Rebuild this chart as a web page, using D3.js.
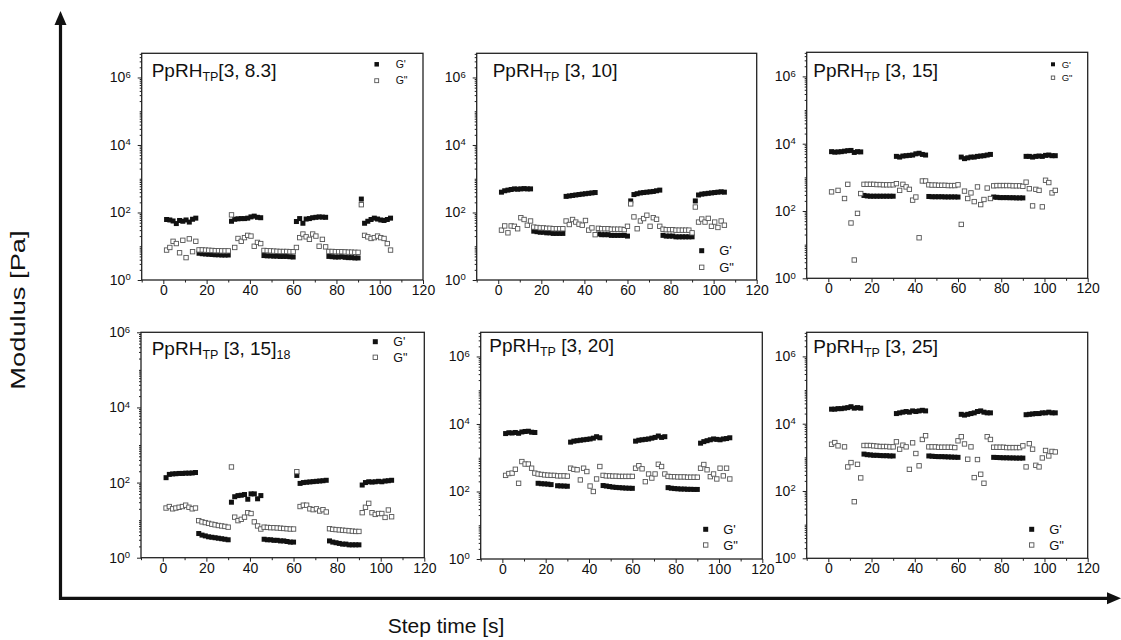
<!DOCTYPE html>
<html>
<head>
<meta charset="utf-8">
<script src="https://cdn.jsdelivr.net/npm/d3@7"></script>
<style>
  html, body { margin: 0; padding: 0; background: #fff; }
  svg { display: block; font-family: "Liberation Sans", Arial, Helvetica, sans-serif; }
</style>
</head>
<body>
<svg id="chart" width="1121" height="640"></svg>
<script>
// Step time of every oscillation point [s]
const stepTime = [1.5,3,4.5,6,7.5,9,10.5,12,13.5,15, 16.5,18,19.5,21,22.5,24,25.5,27,28.5,30,
  31.5,33,34.5,36,37.5,39,40.5,42,43.5,45, 46.5,48,49.5,51,52.5,54,55.5,57,58.5,60,
  61.5,63,64.5,66,67.5,69,70.5,72,73.5,75, 76.5,78,79.5,81,82.5,84,85.5,87,88.5,90,
  91.5,93,94.5,96,97.5,99,100.5,102,103.5,105];

// Storage (G') and loss (G'') moduli [Pa] for each gel; null = not measurable on a log axis
const gp83 = [62,60,56,47,58,55,60,52,63,68, 6.2,6.0,5.9,5.8,5.7,5.6,5.6,5.5,5.5,5.5,
  55,63,65,66,66,68,74,78,72,70, 5.3,5.2,5.2,5.1,5.1,5.0,5.0,5.0,4.9,4.8,
  54,66,48,64,66,70,72,74,73,72, 5.0,4.9,4.8,4.8,4.9,4.7,4.6,4.6,4.5,4.5,
  250,48,55,62,68,64,60,58,62,68];
const gpp83 = [7.7,9.2,14,12,6.4,15,4.6,16.6,6.9,14, 7.8,7.8,7.7,7.6,7.5,7.4,7.4,7.3,7.3,7.3,
  85,9.2,17,14,18,21,20,10,13,12, 7.5,7.4,7.3,7.2,7.1,7.0,7.0,7.0,6.9,6.9,
  9.2,18,23,19,16,23,20,10,16,9.6, 7.0,7.0,6.9,6.9,6.9,6.8,6.7,6.7,6.6,6.6,
  170,21,19,17,18,20,18,17,12,7.7];

const gp10 = [400,440,460,480,500,490,500,510,500,500, 28,27,26,26,25,25,24,24,24,24,
  300,310,320,330,340,350,360,370,380,390, 23,22,22,22,21,21,21,21,21,20,
  220,340,360,380,390,400,410,420,440,460, 21,20,20,20,19,19,19,19,19,19,
  220,330,350,360,370,380,390,400,410,400];
const gpp10 = [30,40,25,40,39,33,70,62,42,56, 37,36,35,35,34,34,33,33,33,33,
  56,44,62,52,45,42,58,30,35,22, 34,33,33,33,32,32,32,32,31,39,
  180,74,33,56,66,83,39,70,63,39, 32,31,31,31,30,30,30,30,30,25,
  145,52,64,52,67,39,52,36,56,42];

const gp15 = [5800,5600,5700,5800,6000,6200,6300,5500,5800,5700, 290,280,275,275,275,275,275,275,275,275,
  4200,4000,4300,4400,4500,4600,5000,5200,4800,4600, 270,265,265,265,265,262,262,262,262,260,
  4000,3600,3800,4000,4000,4200,4300,4400,4600,4800, 260,255,250,250,250,248,248,245,245,245,
  4200,4200,4000,4200,4300,4200,4500,4600,4400,4400];
const gpp15 = [370,null,410,null,235,620,44,3.5,85,330, 620,620,620,620,610,610,600,600,600,600,
  650,410,620,520,440,210,260,16,780,780, 600,590,590,580,580,580,570,570,570,600,
  40,390,235,345,190,520,155,220,480,235, 560,570,570,570,570,570,560,560,560,540,
  720,460,142,440,410,133,820,700,345,410];

const gp1518 = [135,165,170,172,175,175,178,178,180,185, 4.4,4.0,3.8,3.6,3.5,3.4,3.3,3.2,3.1,3.0,
  30,42,45,46,48,36,50,50,37,45, 3.1,3.0,3.0,2.9,2.9,2.8,2.8,2.7,2.6,2.6,
  155,95,100,102,104,106,108,110,112,115, 2.8,2.6,2.5,2.4,2.3,2.3,2.2,2.2,2.2,2.2,
  86,100,105,103,105,108,105,110,112,115];
const gpp1518 = [21,23,20,21,22,23,25,22,20,21, 9.7,9.0,8.6,8.2,7.8,7.5,7.2,7.0,6.8,6.5,
  260,12,9.7,10.5,12,15.8,15,9,7,5.8, 6.5,6.4,6.3,6.3,6.2,6.1,6.0,5.9,5.8,5.8,
  195,23,25,25,20,19,20,17.5,19,16.5, 5.9,5.7,5.6,5.5,5.4,5.3,5.2,5.1,5.0,5.0,
  15.8,22,28,15.8,14.2,15,15,11.8,18.6,12.3];

const gp20 = [5200,5500,5400,5600,5300,5800,6000,6100,5700,5600, 175,170,168,165,160,null,148,146,145,143,
  2900,3100,3200,3300,3400,3500,3600,3800,4200,3900, 150,145,140,135,132,130,128,126,125,124,
  3100,3300,3400,3500,3600,3800,4000,4400,4000,4200, 130,125,122,120,118,118,116,116,115,115,
  2700,3000,3200,3400,3600,3500,3400,3600,3700,3900];
const gpp20 = [300,340,350,455,175,770,650,650,490,350, 330,320,310,305,300,300,290,290,290,285,
  490,455,440,220,490,390,145,100,235,550, 300,290,290,285,285,280,280,280,280,280,
  490,580,470,195,330,250,330,640,550,330, 280,275,275,270,270,270,265,265,265,265,
  490,630,440,275,330,235,490,290,490,235];

const gp25 = [27000,27000,28000,28000,29000,30000,32000,29000,30000,29000, 1250,1200,1180,1150,1150,1130,1120,1120,1100,1100,
  20000,21000,22000,23000,22000,24000,23000,24000,25000,24000, 1100,1080,1060,1050,1050,1040,1030,1020,1010,1000,
  19000,18000,19000,20000,21000,23000,24000,22000,21000,21000, 1000,990,980,970,970,960,960,950,950,950,
  18500,19000,19500,20000,20000,21000,21000,22000,21000,21000];
const gpp25 = [2450,2750,2200,null,2050,520,700,48,620,245, 2250,2250,2250,2200,2150,2100,2100,2100,2050,2050,
  2900,1750,2300,2050,440,2700,1300,560,3400,4400, 2050,2050,2050,2000,2000,2000,2000,2000,1950,3100,
  4100,2500,880,2050,250,860,315,170,4100,3400, 2000,2000,2000,2000,1950,1950,1950,1950,1950,2200,
  520,2550,1750,580,520,960,1600,1100,1500,1450];

// Axis ticks
const xDomain = [-10, 120];
const xMajor = [0, 20, 40, 60, 80, 100, 120];
const xMinor = [-10, 10, 30, 50, 70, 90, 110];
const yLabelExps = [0, 2, 4, 6];
const legendLabels = ["G'", "G\""];

// Panel layout: frame box [left, top, right, bottom], title offset, legend placement
const panels = [
  { tail: "[3, 8.3]", sub2: null, gp: gp83, gpp: gpp83, yMax: 5.2e6, box: [141.7, 53.3, 423, 280],
    title: [10, 24], legend: { x: 235, y: 11, dy: 16.4, tx: 19, fs: 10.5, sq: 4.5 } },
  { tail: " [3, 10]", sub2: null, gp: gp10, gpp: gpp10, yMax: 5.2e6, box: [476.7, 53.3, 756.7, 280],
    title: [16, 23.5], legend: { x: 225, y: 197.4, dy: 16.6, tx: 17.5, fs: 13, sq: 5 } },
  { tail: " [3, 15]", sub2: null, gp: gp15, gpp: gpp15, yMax: 5.2e6, box: [806.7, 52.3, 1087.7, 278.3],
    title: [6.6, 24.5], legend: { x: 246.3, y: 12, dy: 13.4, tx: 8.7, fs: 9.5, sq: 4 } },
  { tail: " [3, 15]", sub2: "18", gp: gp1518, gpp: gpp1518, yMax: 1e6, box: [141, 332.3, 424.3, 557.7],
    title: [10.7, 22.7], legend: { x: 234.3, y: 9.4, dy: 15.6, tx: 18, fs: 12.5, sq: 5 } },
  { tail: " [3, 20]", sub2: null, gp: gp20, gpp: gpp20, yMax: 5.2e6, box: [480.7, 332.3, 762.3, 559],
    title: [8.6, 19.5], legend: { x: 225, y: 197, dy: 15.7, tx: 17.5, fs: 13, sq: 5 } },
  { tail: " [3, 25]", sub2: null, gp: gp25, gpp: gpp25, yMax: 5.2e6, box: [806.7, 332.3, 1087.7, 558.3],
    title: [6.6, 21], legend: { x: 225, y: 197, dy: 15.7, tx: 17.5, fs: 13, sq: 5 } }
];

const svg = d3.select("#chart");
const ink = "#111";

// Large framing arrows shared by all panels
svg.append("path")
  .attr("d", "M60.5,24 V598.3 H1109")
  .attr("fill", "none").attr("stroke", ink).attr("stroke-width", 3.2)
  .attr("stroke-linejoin", "miter");
svg.append("path").attr("d", "M60.5,11 L54.5,25 L66.5,25 Z").attr("fill", ink);
svg.append("path").attr("d", "M1121,598.3 L1107,592.3 L1107,604.3 Z").attr("fill", ink);

svg.append("text")
  .attr("transform", "translate(25,310) rotate(-90) scale(1.3,1)")
  .attr("text-anchor", "middle")
  .attr("font-size", 21).attr("fill", ink)
  .text("Modulus [Pa]");
svg.append("text")
  .attr("x", 446).attr("y", 633)
  .attr("text-anchor", "middle")
  .attr("font-size", 21).attr("fill", ink)
  .text("Step time [s]");

panels.forEach(p => {
  const [l, t, r, b] = p.box;
  const x = d3.scaleLinear().domain(xDomain).range([l, r]);
  const y = d3.scaleLog().domain([1, p.yMax]).range([b, t]);
  const g = svg.append("g");

  // bottom axis: labelled majors and unlabelled minors
  const xa = g.append("g").attr("transform", `translate(0,${b})`)
    .call(d3.axisBottom(x).tickValues(xMajor).tickSize(4).tickSizeOuter(0).tickPadding(1));
  g.append("g").attr("transform", `translate(0,${b})`)
    .call(d3.axisBottom(x).tickValues(xMinor).tickSize(2.5).tickSizeOuter(0).tickFormat(""));

  // left axis: decade labels as 10^n, minor ticks at 2..9 and odd decades
  const yMinor = [];
  for (let k = 0; k <= 6; k++) {
    for (let m = 2; m <= 10; m++) {
      const v = m * Math.pow(10, k);
      if (v <= p.yMax && !(m === 10 && (k + 1) % 2 === 0)) yMinor.push(v);
    }
  }
  const ya = g.append("g").attr("transform", `translate(${l},0)`)
    .call(d3.axisLeft(y).tickValues(yLabelExps.map(e => Math.pow(10, e)))
      .tickSize(4).tickSizeOuter(0).tickPadding(7).tickFormat(d => Math.round(Math.log10(d))));
  g.append("g").attr("transform", `translate(${l},0)`)
    .call(d3.axisLeft(y).tickValues(yMinor).tickSize(2).tickSizeOuter(0).tickFormat(""));

  g.selectAll(".domain").remove();
  g.selectAll(".tick line").attr("stroke", "#222");
  xa.selectAll("text").attr("font-size", 14).attr("fill", ink).attr("font-family", null);
  ya.selectAll("text").each(function (d) {
    const e = Math.round(Math.log10(d));
    const txt = d3.select(this).text(null).attr("font-size", 14).attr("fill", ink).attr("font-family", null);
    txt.append("tspan").text("10");
    txt.append("tspan").attr("dy", "-0.5em").attr("font-size", 9.5).text(e);
  });

  // plot frame
  g.append("rect")
    .attr("x", l).attr("y", t).attr("width", r - l).attr("height", b - t)
    .attr("fill", "none").attr("stroke", "#222").attr("stroke-width", 1.3);

  // measured points
  const rows = stepTime.map((s, i) => ({ s, gp: p.gp[i], gpp: p.gpp[i] }));
  const sz = 5, osz = 4.4;
  g.append("g").selectAll("rect")
    .data(rows.filter(d => d.gp != null))
    .join("rect")
    .attr("x", d => x(d.s) - sz / 2).attr("y", d => y(d.gp) - sz / 2)
    .attr("width", sz).attr("height", sz).attr("fill", ink);
  g.append("g").selectAll("rect")
    .data(rows.filter(d => d.gpp != null))
    .join("rect")
    .attr("x", d => x(d.s) - osz / 2).attr("y", d => y(d.gpp) - osz / 2)
    .attr("width", osz).attr("height", osz)
    .attr("fill", "#fff").attr("stroke", "#555").attr("stroke-width", 0.9);

  // title: PpRH with subscripted TP
  const title = g.append("text")
    .attr("x", l + p.title[0]).attr("y", t + p.title[1])
    .attr("font-size", 19).attr("fill", ink);
  title.append("tspan").text("PpRH");
  title.append("tspan").attr("font-size", 12.5).attr("dy", 4).text("TP");
  title.append("tspan").attr("dy", -4).text(p.tail);
  if (p.sub2) title.append("tspan").attr("font-size", 12.5).attr("dy", 4).text(p.sub2);

  // legend
  const L = p.legend;
  legendLabels.forEach((lab, i) => {
    const cx = l + L.x, cy = t + L.y + i * L.dy;
    const s = i === 0 ? L.sq : L.sq - 0.6;
    g.append("rect")
      .attr("x", cx - s / 2).attr("y", cy - s / 2).attr("width", s).attr("height", s)
      .attr("fill", i === 0 ? ink : "#fff")
      .attr("stroke", i === 0 ? "none" : "#555").attr("stroke-width", 0.9);
    g.append("text")
      .attr("x", cx + L.tx).attr("y", cy).attr("dy", "0.35em")
      .attr("font-size", L.fs).attr("fill", ink).text(lab);
  });
});
</script>
</body>
</html>
